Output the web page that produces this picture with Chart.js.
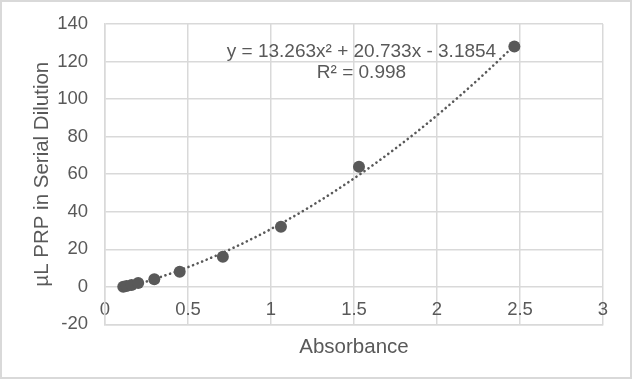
<!DOCTYPE html>
<html>
<head>
<meta charset="utf-8">
<script src="https://cdn.jsdelivr.net/npm/chart.js@4"></script>
<style>
  body { margin: 0; background: #fff; }
  #box { width: 632px; height: 379px; }
</style>
</head>
<body>
<div id="box"><canvas id="c" width="632" height="379"></canvas></div>
<script>
// data
const absorbance = [0.11, 0.13, 0.16, 0.20, 0.297, 0.45, 0.71, 1.06, 1.53, 2.466];
const prpVolume = [0, 0.5, 1, 2, 4, 8, 16, 32, 64, 128];
const trendCoef = [13.263, 20.733, -3.1854]; // a x^2 + b x + c, as printed on the chart
const equationLabel = "y = 13.263x² + 20.733x - 3.1854";
const rSquaredLabel = "R² = 0.998";
const xTitle = "Absorbance";
const yTitle = "µL PRP in Serial Dilution";

const textColor = "#595959";
const gridColor = "#d9d9d9";
const fontFamily = "'Liberation Sans', Arial, sans-serif";

// trendline from the printed polynomial, over the range of the data
const trendPoints = [];
const xLo = Math.min(...absorbance), xHi = Math.max(...absorbance);
for (let i = 0; i <= 60; i++) {
  const x = xLo + (xHi - xLo) * i / 60;
  trendPoints.push({ x: x, y: trendCoef[0] * x * x + trendCoef[1] * x + trendCoef[2] });
}

const points = absorbance.map((x, i) => ({ x: x, y: prpVolume[i] }));

// outer frame + trendline equation text
const extras = {
  id: "extras",
  afterDraw(chart) {
    const ctx = chart.ctx;
    ctx.save();
    ctx.strokeStyle = gridColor;
    ctx.lineWidth = 2;
    ctx.strokeRect(1, 1, 630, 377);
    ctx.fillStyle = textColor;
    ctx.font = "19px " + fontFamily;
    ctx.textAlign = "center";
    ctx.textBaseline = "alphabetic";
    const cx = chart.scales.x.getPixelForValue(1.545);
    ctx.fillText(equationLabel, cx, 57);
    ctx.fillText(rSquaredLabel, cx, 78);
    ctx.restore();
  }
};

new Chart(document.getElementById("c").getContext("2d"), {
  type: "scatter",
  data: {
    datasets: [
      {
        type: "line",
        data: trendPoints,
        borderColor: textColor,
        borderWidth: 2.6,
        borderDash: [0.1, 4.8],
        borderCapStyle: "round",
        pointRadius: 0,
        fill: false,
        order: 2,
      },
      {
        data: points,
        backgroundColor: textColor,
        borderColor: textColor,
        pointRadius: 6,
        borderWidth: 0,
        order: 1,
      },
    ],
  },
  options: {
    responsive: false,
    animation: false,
    layout: { padding: { left: 26, top: 24, right: 29, bottom: 15 } },
    plugins: {
      legend: { display: false },
      tooltip: { enabled: false },
    },
    scales: {
      x: {
        type: "linear",
        min: 0,
        max: 3,
        position: "bottom",
        ticks: { display: false, stepSize: 0.5 },
        grid: { color: gridColor, lineWidth: 1.5, drawTicks: false },
        border: { color: gridColor, width: 1.5 },
        title: {
          display: true,
          text: xTitle,
          color: textColor,
          font: { family: fontFamily, size: 20.5 },
          padding: { top: 11, bottom: 4 },
        },
      },
      xLabels: {
        type: "linear",
        axis: "x",
        min: 0,
        max: 3,
        position: { y: 0 },
        ticks: {
          stepSize: 0.5,
          color: textColor,
          padding: 12,
          font: { family: fontFamily, size: 18.5 },
          callback: (v) => String(Math.round(v * 10) / 10),
        },
        grid: { display: false, drawTicks: false },
        border: { display: false },
        afterFit(scale) {
          scale.paddingTop = scale.paddingBottom = 0;
          scale.paddingLeft = scale.paddingRight = 0;
        },
      },
      y: {
        min: -20,
        max: 140,
        ticks: {
          stepSize: 20,
          color: textColor,
          padding: 17,
          font: { family: fontFamily, size: 18.5 },
        },
        grid: { color: gridColor, lineWidth: 1.5, drawTicks: false },
        border: { color: gridColor, width: 1.5 },
        title: {
          display: true,
          text: yTitle,
          color: textColor,
          font: { family: fontFamily, size: 20.5 },
        },
        afterFit(scale) {
          scale.width = 79;
          scale.paddingTop = scale.paddingBottom = 0;
        },
      },
    },
  },
  plugins: [extras],
});
</script>
</body>
</html>
